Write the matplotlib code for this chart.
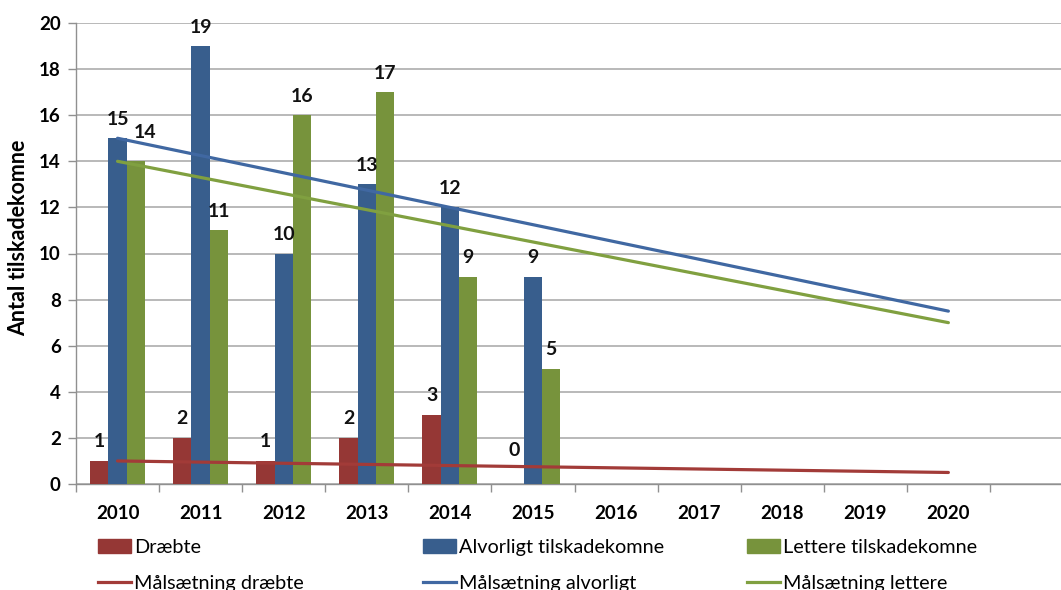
import matplotlib
matplotlib.use("Agg")
import matplotlib.pyplot as plt
import numpy as np
from matplotlib.patches import Patch
from matplotlib.lines import Line2D

plt.rcParams['font.family'] = ['Lato', 'DejaVu Sans']

years = ['2010', '2011', '2012', '2013', '2014', '2015', '2016', '2017', '2018', '2019', '2020']
data_years = ['2010', '2011', '2012', '2013', '2014', '2015']
draebte = [1, 2, 1, 2, 3, 0]
alvorligt = [15, 19, 10, 13, 12, 9]
lettere = [14, 11, 16, 17, 9, 5]

goal_years = ['2010', '2020']
goal_draebte = [1, 0.5]
goal_alvorligt = [15, 7.5]
goal_lettere = [14, 7]

labels = ['Dræbte', 'Alvorligt tilskadekomne', 'Lettere tilskadekomne',
          'Målsætning dræbte', 'Målsætning alvorligt', 'Målsætning lettere']

c_red, c_blue, c_green = '#953735', '#385E8D', '#77933C'
l_red, l_blue, l_green = '#A23B38', '#4068A2', '#80A040'

W, H = 1061, 590
fig = plt.figure(figsize=(W / 100, H / 100), dpi=100)
ax = fig.add_axes([76 / W, 106 / H, 997 / W, 461 / H])

xi = {y: i for i, y in enumerate(years)}
xd = np.array([xi[y] for y in data_years])
bw = 0.22

b1 = ax.bar(xd - bw, draebte, bw, color=c_red, zorder=3)
b2 = ax.bar(xd, alvorligt, bw, color=c_blue, zorder=3)
b3 = ax.bar(xd + bw, lettere, bw, color=c_green, zorder=3)

xg = [xi[y] for y in goal_years]
ax.plot(xg, goal_draebte, color=l_red, lw=2.3, zorder=4, solid_capstyle='round')
ax.plot(xg, goal_alvorligt, color=l_blue, lw=2.3, zorder=4, solid_capstyle='round')
ax.plot(xg, goal_lettere, color=l_green, lw=2.3, zorder=4, solid_capstyle='round')

# data labels
special = {(2, 0): (9, 29)}
for si, (bars, vals, off) in enumerate([(b1, draebte, -bw), (b2, alvorligt, 0), (b3, lettere, bw)]):
    for j, v in enumerate(vals):
        dx, dy = special.get((si, j), (0, 19 if v != 0 else 34))
        ax.annotate(str(v), (xd[j] + off, v), xytext=(dx, dy), textcoords='offset pixels',
                    ha='center', va='center', fontsize=14, fontweight='bold', color='#111111',
                    zorder=6)

ax.set_xlim(-0.5, len(years) + 0.5)
ax.set_ylim(0, 20)
ax.set_yticks(np.arange(0, 21, 2))
ax.yaxis.grid(True, color='#A6A6A6', lw=1.1, zorder=0)
ax.set_axisbelow(True)

ax.set_xticks(range(len(years)))
ax.set_xticklabels(years, fontsize=13.5, fontweight='bold')
ax.set_xticks(np.arange(-0.5, len(years) + 1, 1), minor=True)
ax.tick_params(axis='x', which='major', length=0, pad=15)
ax.tick_params(axis='x', which='minor', length=6, width=1, color='#909090', direction='out')
ax.tick_params(axis='y', length=6, width=1, color='#909090', pad=5, labelsize=13.5)
for t in ax.get_yticklabels():
    t.set_fontweight('bold')

for s in ['top', 'right']:
    ax.spines[s].set_visible(False)
for s in ['left', 'bottom']:
    ax.spines[s].set_color('#909090')
    ax.spines[s].set_linewidth(1)

fig.text(19 / W, 1 - 238 / H, 'Antal tilskadekomne', rotation=90, ha='center', va='center',
         fontsize=15.5, fontweight='bold')

cols = [(c_red, l_red), (c_blue, l_blue), (c_green, l_green)]
xs = [98, 423, 747]
for k in range(3):
    handles = [Patch(color=cols[k][0]), Line2D([], [], color=cols[k][1], lw=2.3)]
    leg = fig.legend(handles, [labels[k], labels[k + 3]], loc='upper left',
                     bbox_to_anchor=(xs[k] / W, 1 - 539 / H), frameon=False,
                     borderpad=0, borderaxespad=0, handlelength=1.65, handletextpad=0.18,
                     labelspacing=0.95, prop={'size': 14.3})

fig.savefig('out.png', dpi=100)
